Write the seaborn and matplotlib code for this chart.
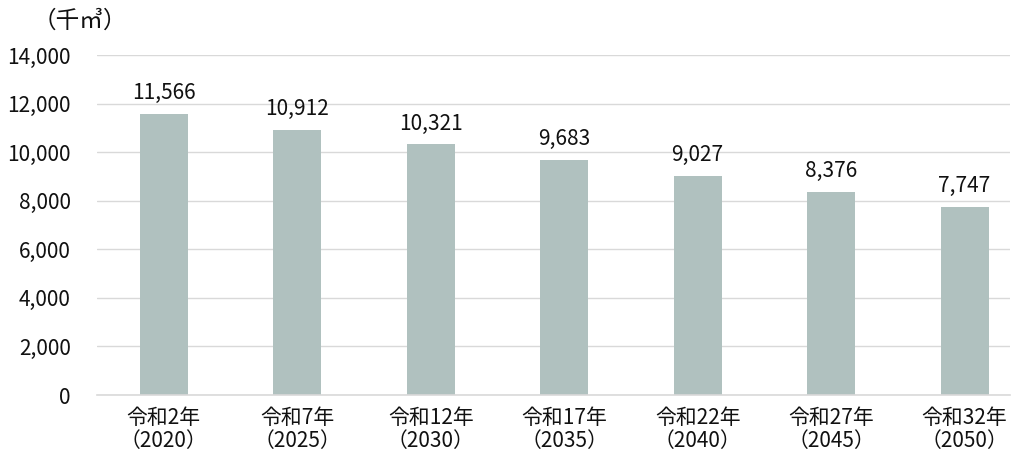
import matplotlib
matplotlib.use("Agg")
import matplotlib.pyplot as plt
import seaborn as sns
import pandas as pd

categories = ["令和2年\n（2020）", "令和7年\n（2025）", "令和12年\n（2030）", "令和17年\n（2035）",
              "令和22年\n（2040）", "令和27年\n（2045）", "令和32年\n（2050）"]
values = [11566, 10912, 10321, 9683, 9027, 8376, 7747]
yticks = [0, 2000, 4000, 6000, 8000, 10000, 12000, 14000]
unit_label = "（千㎥）"

sns.set_theme(style="white")
plt.rcParams['font.family'] = ['Noto Sans CJK JP', 'DejaVu Sans']

W, H = 1024, 457
fig = plt.figure(figsize=(W/100, H/100), dpi=100)
ax = fig.add_axes([97/W, 1 - 395/H, (1010-97)/W, (395-55)/H])

df = pd.DataFrame({"cat": categories, "val": values})
sns.barplot(data=df, x="cat", y="val", color="#b0c1bf", saturation=1, width=0.36,
            linewidth=0, ax=ax)

ax.set_ylim(0, 14000)
ax.set_xlim(-0.5, 6.34)
ax.set_yticks(yticks)
ax.set_yticklabels([f"{v:,}" for v in yticks], fontsize=15, color="#111111")
for lab in ax.get_xticklabels():
    lab.set_linespacing(1.05)
ax.tick_params(axis="x", labelsize=15, length=0, pad=9, labelcolor="#111111")
ax.tick_params(axis="y", length=0, pad=19)
ax.set_xlabel("")
ax.set_ylabel("")
ax.yaxis.grid(True, color="#d9d9d9", linewidth=1)
ax.set_axisbelow(True)
for s in ["top", "right", "left"]:
    ax.spines[s].set_visible(False)
ax.spines["bottom"].set_color("#d9d9d9")
ax.spines["bottom"].set_linewidth(1.2)

for i, v in enumerate(values):
    ax.text(i, v + 400, f"{v:,}", ha="center", va="bottom", fontsize=15, color="#111111")

fig.text(33/W, 1 - 21/H, unit_label, fontsize=17, ha="left", va="center", color="#111111")

fig.savefig("out.png", dpi=100)
